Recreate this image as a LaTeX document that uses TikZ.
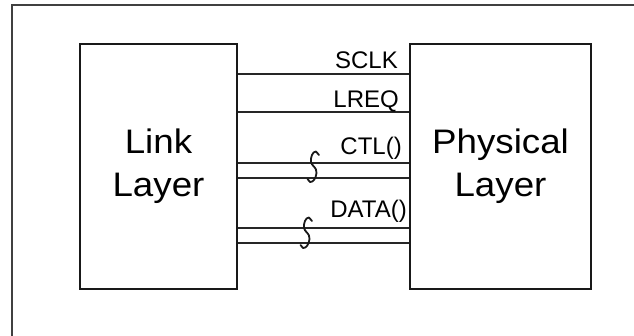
\documentclass[tikz,border=0pt]{standalone}
\usepackage{fontspec}
\setmainfont{Liberation Sans}
\begin{document}
\begin{tikzpicture}[x=1pt,y=-1pt,
  frame/.style={draw=black!75,line width=2pt},
  layerbox/.style={draw=black!90,line width=2pt,minimum height=245pt,inner sep=0pt,
    align=center,font=\fontsize{34}{43}\selectfont},
  wire/.style={draw=black!85,line width=2pt},
  siglabel/.style={anchor=base east,inner sep=0pt,font=\fontsize{24}{26}\selectfont},
  squiggle/.pic={\draw[black!90,line width=1.8pt,line join=round,line cap=round]
    (5.5,-8) -- (2.5,-11.5) .. controls (-1,-11.5) and (-3,-6) .. (-2.5,-1)
    .. controls (-2,3) and (3.5,4) .. (3,10)
    .. controls (2.5,16) and (-1,19.5) .. (-3.5,19) -- (-6,16);}
]
\useasboundingbox (0,0) rectangle (634,335);
\draw[frame] (12,336) -- (12,5) -- (635,5);

\node[layerbox,minimum width=157pt] (link) at (158.5,166.5)
  {\scalebox{1.08}[1]{Link}\\\scalebox{1.08}[1]{Layer}};
\node[layerbox,minimum width=181pt] (phys) at (500.5,166.5)
  {\scalebox{1.08}[1]{Physical}\\\scalebox{1.08}[1]{Layer}};

\coordinate (ysclk) at (0,74);
\coordinate (ylreq) at (0,112);
\coordinate (yctla) at (0,163);
\coordinate (yctlb) at (0,178);
\coordinate (ydata) at (0,228);
\coordinate (ydatb) at (0,243);

\draw[wire] (link.east |- ysclk) -- (phys.west |- ysclk);
\draw[wire] (link.east |- ylreq) -- (phys.west |- ylreq);
\draw[wire] (link.east |- yctla) -- (phys.west |- yctla);
\draw[wire] (link.east |- yctlb) -- (phys.west |- yctlb);
\draw[wire] (link.east |- ydata) -- (phys.west |- ydata);
\draw[wire] (link.east |- ydatb) -- (phys.west |- ydatb);

\node[siglabel] (lsclk) at (398,68) {SCLK};
\node[siglabel] (llreq) at (399,107) {LREQ};
\node[siglabel] (lctl) at (402,154) {CTL()};
\node[siglabel] (ldata) at (407,217) {DATA()};

\pic at (313.5,163) {squiggle};
\pic at (306.5,229) {squiggle};
\end{tikzpicture}
\end{document}
